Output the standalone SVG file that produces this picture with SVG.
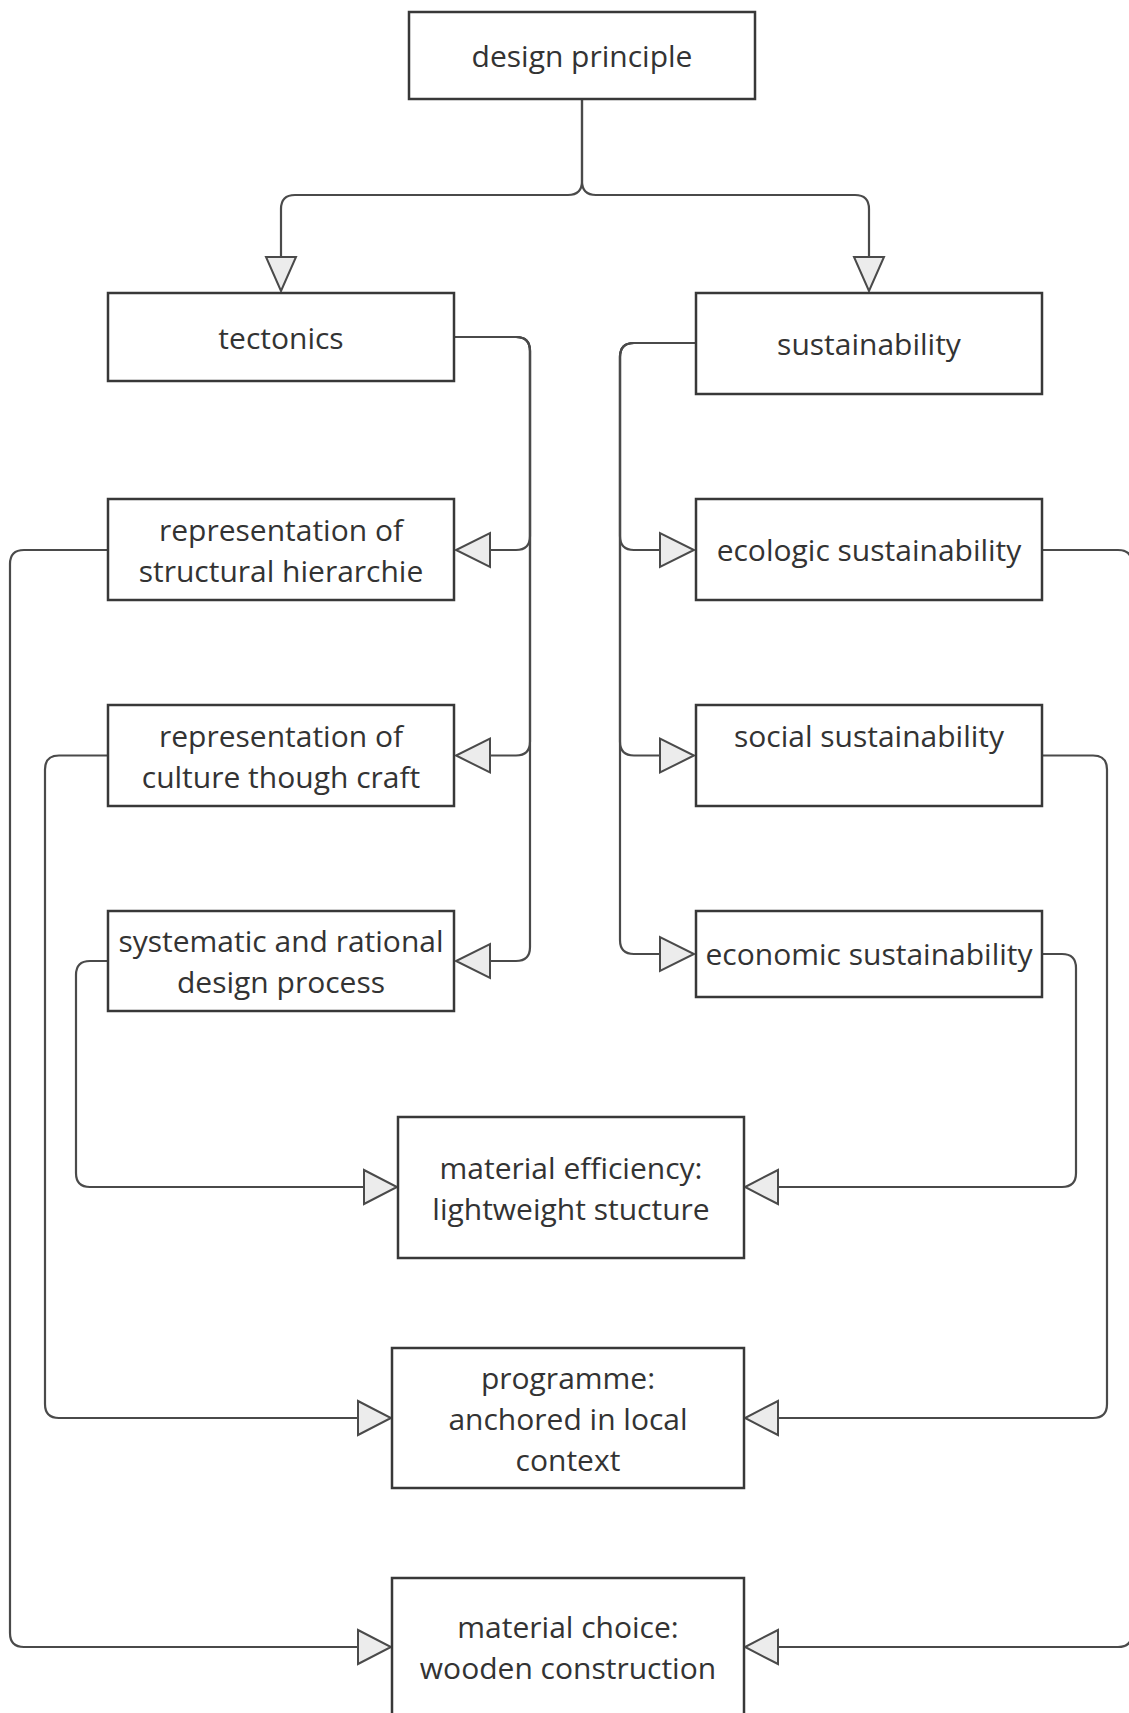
<svg xmlns="http://www.w3.org/2000/svg" width="1129" height="1713" viewBox="0 0 1129 1713">
<defs>
<style>
.box{fill:#fff;stroke:#383838;stroke-width:2.5}
.t{font-family:"Open Sans","Noto Sans",sans-serif;font-size:30px;fill:#333;text-anchor:middle}
.ln{fill:none;stroke:#4a4a4a;stroke-width:2.2}
.ar{fill:#ececec;stroke:#4a4a4a;stroke-width:2}
</style>
</defs>
<rect width="1129" height="1713" fill="#fff"/>
<g id="connectors">
<path class="ln" d="M582 99 V181 Q582 195 568 195 H295 Q281 195 281 209 V257"/>
<polygon class="ar" points="266,257 296,257 281,291"/>
<path class="ln" d="M582 99 V181 Q582 195 596 195 H855 Q869 195 869 209 V257"/>
<polygon class="ar" points="854,257 884,257 869,291"/>
<path class="ln" d="M454 337 H516 Q530 337 530 351 V536 Q530 550 516 550 H490"/>
<polygon class="ar" points="490,533 490,567 456,550"/>
<path class="ln" d="M454 337 H516 Q530 337 530 351 V741.5 Q530 755.5 516 755.5 H490"/>
<polygon class="ar" points="490,738.5 490,772.5 456,755.5"/>
<path class="ln" d="M454 337 H516 Q530 337 530 351 V947 Q530 961 516 961 H490"/>
<polygon class="ar" points="490,944 490,978 456,961"/>
<path class="ln" d="M696 343 H634 Q620 343 620 357 V536 Q620 550 634 550 H660"/>
<polygon class="ar" points="660,533 660,567 694,550"/>
<path class="ln" d="M696 343 H634 Q620 343 620 357 V741.5 Q620 755.5 634 755.5 H660"/>
<polygon class="ar" points="660,738.5 660,772.5 694,755.5"/>
<path class="ln" d="M696 343 H634 Q620 343 620 357 V940 Q620 954 634 954 H660"/>
<polygon class="ar" points="660,937 660,971 694,954"/>
<path class="ln" d="M108 550 H24 Q10 550 10 564 V1633 Q10 1647 24 1647 H358"/>
<polygon class="ar" points="358,1630 358,1664 391,1647"/>
<path class="ln" d="M108 755.5 H59 Q45 755.5 45 769.5 V1404 Q45 1418 59 1418 H358"/>
<polygon class="ar" points="358,1401 358,1435 391,1418"/>
<path class="ln" d="M108 961 H90 Q76 961 76 975 V1173 Q76 1187 90 1187 H364"/>
<polygon class="ar" points="364,1170 364,1204 397,1187"/>
<path class="ln" d="M1042 550 H1118 Q1132 550 1132 564 V1633 Q1132 1647 1118 1647 H778"/>
<polygon class="ar" points="778,1630 778,1664 745,1647"/>
<path class="ln" d="M1042 755.5 H1093 Q1107 755.5 1107 769.5 V1404 Q1107 1418 1093 1418 H778"/>
<polygon class="ar" points="778,1401 778,1435 745,1418"/>
<path class="ln" d="M1042 954 H1062 Q1076 954 1076 968 V1173 Q1076 1187 1062 1187 H778"/>
<polygon class="ar" points="778,1170 778,1204 745,1187"/>
</g>
<g id="design-principle"><rect class="box" x="409" y="12" width="346" height="87"/><text class="t" x="582" y="67">design principle</text></g>
<g id="tectonics"><rect class="box" x="108" y="293" width="346" height="88"/><text class="t" x="281" y="348.5">tectonics</text></g>
<g id="sustainability"><rect class="box" x="696" y="293" width="346" height="101"/><text class="t" x="869" y="355">sustainability</text></g>
<g id="structural-hierarchie"><rect class="box" x="108" y="499" width="346" height="101"/><text class="t" x="281" y="540.5">representation of</text><text class="t" x="281" y="581.5">structural hierarchie</text></g>
<g id="ecologic"><rect class="box" x="696" y="499" width="346" height="101"/><text class="t" x="869" y="561">ecologic sustainability</text></g>
<g id="culture-craft"><rect class="box" x="108" y="705" width="346" height="101"/><text class="t" x="281" y="746.5">representation of</text><text class="t" x="281" y="787.5">culture though craft</text></g>
<g id="social"><rect class="box" x="696" y="705" width="346" height="101"/><text class="t" x="869" y="746.5">social sustainability</text></g>
<g id="systematic"><rect class="box" x="108" y="911" width="346" height="100"/><text class="t" x="281" y="952">systematic and rational</text><text class="t" x="281" y="993">design process</text></g>
<g id="economic"><rect class="box" x="696" y="911" width="346" height="86"/><text class="t" x="869" y="965">economic sustainability</text></g>
<g id="material-efficiency"><rect class="box" x="398" y="1117" width="346" height="141"/><text class="t" x="571" y="1178.5">material efficiency:</text><text class="t" x="571" y="1219.5">lightweight stucture</text></g>
<g id="programme"><rect class="box" x="392" y="1348" width="352" height="140"/><text class="t" x="568" y="1388.5">programme:</text><text class="t" x="568" y="1429.5">anchored in local</text><text class="t" x="568" y="1470.5">context</text></g>
<g id="material-choice"><rect class="box" x="392" y="1578" width="352" height="140"/><text class="t" x="568" y="1638">material choice:</text><text class="t" x="568" y="1679">wooden construction</text></g>
</svg>
